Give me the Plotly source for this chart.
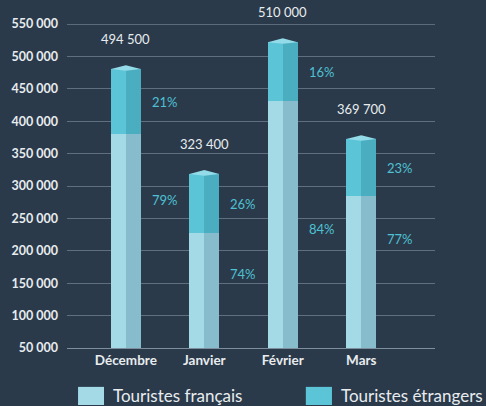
import plotly.graph_objects as go

# Data
months = ['Décembre', 'Janvier', 'Février', 'Mars']
french = [380000, 227500, 431000, 284500]        # top of the light (French) segment
total = [480500, 318500, 522000, 372500]         # top of the bar
total_labels = ['494 500', '323 400', '510 000', '369 700']
pct_french = ['79%', '74%', '84%', '77%']
pct_foreign = ['21%', '26%', '16%', '23%']
fr_label_y = [278000, 164000, 233000, 218000]    # where the French % labels sit
y_ticks = [50000, 100000, 150000, 200000, 250000, 300000, 350000, 400000, 450000, 500000, 550000]
y_ticktext = ['50 000', '100 000', '150 000', '200 000', '250 000', '300 000',
              '350 000', '400 000', '450 000', '500 000', '550 000']

BG = '#2a3a4a'
FR_FRONT, FR_SIDE = '#a3dae6', '#86bccb'
ET_FRONT, ET_SIDE = '#5bc5d7', '#4badc0'
CAP = '#93dbe8'
PCT = '#4fc1d3'
TXT = '#e8ecef'
FONT = 'Lato, sans-serif'

x = list(range(len(months)))
half = 0.191
foreign = [t - f for t, f in zip(total, french)]

fig = go.Figure()

# French part: front face then side face
fig.add_trace(go.Bar(x=x, y=french, offset=-half, width=half, marker=dict(color=FR_FRONT, line=dict(width=0))))
fig.add_trace(go.Bar(x=x, y=french, offset=0, width=half, marker=dict(color=FR_SIDE, line=dict(width=0))))
# Foreign part on top
fig.add_trace(go.Bar(x=x, y=foreign, base=french, offset=-half, width=half, marker=dict(color=ET_FRONT, line=dict(width=0))))
fig.add_trace(go.Bar(x=x, y=foreign, base=french, offset=0, width=half, marker=dict(color=ET_SIDE, line=dict(width=0))))

# top caps of the 3D bars
for i, t in enumerate(total):
    fig.add_trace(go.Scatter(
        x=[i - half, i, i + half, i, i - half],
        y=[t, t + 6000, t, t - 2500, t],
        mode='lines', fill='toself', fillcolor=CAP,
        line=dict(width=0, color=CAP), hoverinfo='skip'
    ))

annotations = []
for i in x:
    annotations.append(dict(x=i, y=total[i], text=total_labels[i], showarrow=False,
                            yshift=30, font=dict(size=13, color=TXT, family=FONT)))
    annotations.append(dict(x=i + half, y=(french[i] + total[i]) / 2, text=pct_foreign[i], showarrow=False,
                            xanchor='left', xshift=9, font=dict(size=13, color=PCT, family=FONT)))
    annotations.append(dict(x=i + half, y=fr_label_y[i], text=pct_french[i], showarrow=False,
                            xanchor='left', xshift=9, font=dict(size=13, color=PCT, family=FONT)))

# legend drawn by hand
annotations.append(dict(x=0.1196, y=-0.148, xref='paper', yref='paper', text='Touristes français',
                        showarrow=False, xanchor='left', yshift=-12, font=dict(size=17, color=TXT, family=FONT)))
annotations.append(dict(x=0.739, y=-0.148, xref='paper', yref='paper', text='Touristes étrangers',
                        showarrow=False, xanchor='left', yshift=-12, font=dict(size=17, color=TXT, family=FONT)))

shapes = [
    dict(type='rect', xref='paper', yref='paper', x0=0.030, x1=0.1005, y0=-0.176, y1=-0.120,
         fillcolor=FR_FRONT, line=dict(width=0)),
    dict(type='rect', xref='paper', yref='paper', x0=0.649, x1=0.720, y0=-0.176, y1=-0.120,
         fillcolor=ET_FRONT, line=dict(width=0)),
    dict(type='line', xref='paper', yref='y', x0=0, x1=1, y0=550000, y1=550000,
         line=dict(color='#5b6b7a', width=2), layer='below'),
]

fig.update_layout(
    width=486, height=406,
    barmode='overlay',
    bargap=0,
    showlegend=False,
    paper_bgcolor=BG, plot_bgcolor=BG,
    margin=dict(l=67, r=51, t=24, b=58),
    annotations=annotations,
    shapes=shapes,
    xaxis=dict(
        range=[-0.75, 3.94],
        tickvals=x, ticktext=months,
        showgrid=False, zeroline=False,
        showline=True, linecolor='#7d8e9c', linewidth=1,
        tickfont=dict(size=13.5, color=TXT, family=FONT, weight='bold'),
        ticks='', fixedrange=True
    ),
    yaxis=dict(
        range=[50000, 550000],
        tickvals=y_ticks, ticktext=y_ticktext,
        showgrid=True, gridcolor='#5e6f7f', gridwidth=1,
        zeroline=False, showline=False,
        tickfont=dict(size=12.5, color=TXT, family=FONT, weight='bold'),
        ticks='', ticklabelstandoff=8, fixedrange=True
    ),
)

# the page's default body margin would push the chart 8px off
fig.write_html("out.html", config={'displayModeBar': False},
               post_script="document.body.style.margin='0px';document.body.style.background='#2a3a4a';")
